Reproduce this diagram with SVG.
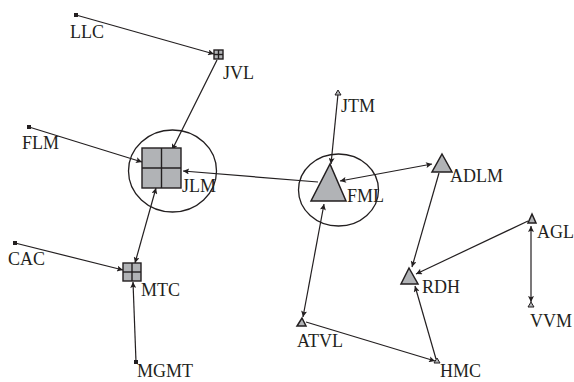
<svg xmlns="http://www.w3.org/2000/svg" width="574" height="382" viewBox="0 0 574 382">
<style>
.lbl{font-family:"Liberation Serif","Times New Roman",serif;font-size:18px;fill:#231f20}
.e{stroke:#231f20;stroke-width:1.2;fill:none}
.ring{fill:none;stroke:#231f20;stroke-width:1.3}
.sq{fill:#231f20}
.grid{fill:#b1b3b6;stroke:#231f20;stroke-width:1.4}
.gl{stroke:#231f20;stroke-width:1.4}
.tri{fill:#b1b3b6;stroke:#231f20;stroke-width:1.5;stroke-linejoin:miter}
</style>
<defs>
<marker id="ah" viewBox="0 0 10 10" refX="10" refY="5" markerWidth="9" markerHeight="6" markerUnits="userSpaceOnUse" orient="auto-start-reverse">
<path d="M0,0 L10,5 L0,10 L2,5 z" fill="#231f20"/>
</marker>
</defs>
<rect width="574" height="382" fill="#ffffff"/>
<g id="connectors">
<line class="e" x1="76" y1="15" x2="214" y2="54" marker-end="url(#ah)"/>
<line class="e" x1="217" y1="60" x2="172" y2="150" marker-end="url(#ah)"/>
<line class="e" x1="29" y1="127" x2="142" y2="162" marker-end="url(#ah)"/>
<line class="e" x1="318" y1="182" x2="183" y2="171" marker-end="url(#ah)"/>
<line class="e" x1="156" y1="188" x2="135" y2="263" marker-start="url(#ah)" marker-end="url(#ah)"/>
<line class="e" x1="15" y1="243" x2="123" y2="270" marker-end="url(#ah)"/>
<line class="e" x1="136" y1="362" x2="133" y2="282" marker-end="url(#ah)"/>
<line class="e" x1="338" y1="94" x2="331" y2="164" marker-end="url(#ah)"/>
<line class="e" x1="340" y1="181" x2="432" y2="164" marker-start="url(#ah)" marker-end="url(#ah)"/>
<line class="e" x1="324" y1="204" x2="303" y2="317" marker-start="url(#ah)" marker-end="url(#ah)"/>
<line class="e" x1="439" y1="173" x2="412" y2="267" marker-end="url(#ah)"/>
<line class="e" x1="528" y1="221" x2="416" y2="274" marker-end="url(#ah)"/>
<line class="e" x1="531" y1="226" x2="531" y2="302" marker-start="url(#ah)" marker-end="url(#ah)"/>
<line class="e" x1="306" y1="322" x2="435" y2="361" marker-end="url(#ah)"/>
<line class="e" x1="436" y1="359" x2="415" y2="286" marker-end="url(#ah)"/>
</g>
<g id="LLC"><rect class="sq" x="74" y="13" width="4" height="4"/><text class="lbl" x="70" y="38">LLC</text></g>
<g id="JVL"><rect class="grid" x="214" y="50" width="9" height="9"/><line class="gl" x1="218.5" y1="50" x2="218.5" y2="59"/><line class="gl" x1="214" y1="54.5" x2="223" y2="54.5"/><text class="lbl" x="223" y="79">JVL</text></g>
<g id="FLM"><rect class="sq" x="27" y="125" width="4" height="4"/><text class="lbl" x="22" y="149">FLM</text></g>
<g id="JLM"><ellipse class="ring" cx="172.5" cy="171" rx="44" ry="41"/><rect class="grid" x="142" y="148" width="39" height="40"/><line class="gl" x1="161.5" y1="148" x2="161.5" y2="188"/><line class="gl" x1="142" y1="168" x2="181" y2="168"/><text class="lbl" x="182" y="192">JLM</text></g>
<g id="CAC"><rect class="sq" x="13" y="241" width="4" height="4"/><text class="lbl" x="8" y="265">CAC</text></g>
<g id="MTC"><rect class="grid" x="123" y="263" width="18" height="18"/><line class="gl" x1="132" y1="263" x2="132" y2="281"/><line class="gl" x1="123" y1="272" x2="141" y2="272"/><text class="lbl" x="141" y="296">MTC</text></g>
<g id="MGMT"><rect class="sq" x="134" y="360" width="4" height="4"/><text class="lbl" x="137" y="377">MGMT</text></g>
<g id="JTM"><polygon class="tri" points="338,90 341,95 335,95" style="stroke-width:1"/><text class="lbl" x="341" y="112">JTM</text></g>
<g id="FML"><ellipse class="ring" cx="338.5" cy="190" rx="40" ry="36"/><polygon class="tri" points="330,164 346,201 311,201"/><text class="lbl" x="347" y="202">FML</text></g>
<g id="ADLM"><polygon class="tri" points="442,154 452,172 432,172"/><text class="lbl" x="450" y="182">ADLM</text></g>
<g id="AGL"><polygon class="tri" points="532,214 536,223 528,223"/><text class="lbl" x="537" y="238">AGL</text></g>
<g id="RDH"><polygon class="tri" points="409,268 418,284 401,284"/><text class="lbl" x="422" y="293">RDH</text></g>
<g id="VVM"><polygon class="tri" points="531,302 534,307 528,307" style="stroke-width:1"/><text class="lbl" x="530" y="327">VVM</text></g>
<g id="ATVL"><polygon class="tri" points="302,318 306,326 297,326"/><text class="lbl" x="297" y="347">ATVL</text></g>
<g id="HMC"><polygon class="tri" points="437,358 440,363 434,363" style="stroke-width:1"/><text class="lbl" x="440" y="377">HMC</text></g>
</svg>
